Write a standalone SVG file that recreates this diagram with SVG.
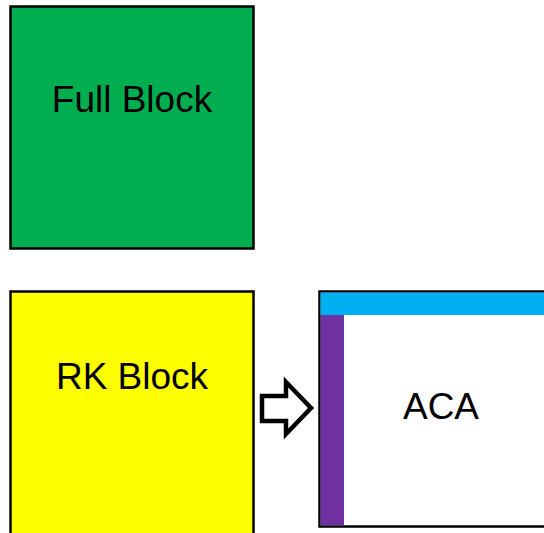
<svg xmlns="http://www.w3.org/2000/svg" width="544" height="533" viewBox="0 0 544 533">
<style>
.box{stroke:#000;stroke-width:2.5}
.lbl{font-family:"Liberation Sans",Arial,sans-serif;font-size:37px;fill:#000;text-anchor:middle}
</style>
<rect width="544" height="533" fill="#fff"/>
<g id="full-block">
<rect class="box" x="10.5" y="6.5" width="243" height="242" fill="#00AE4F"/>
<text class="lbl" x="132" y="112">Full Block</text>
</g>
<g id="rk-block">
<rect class="box" x="10.5" y="291.5" width="243" height="260" fill="#FFFF00"/>
<text class="lbl" x="132" y="389">RK Block</text>
</g>
<g id="aca">
<rect class="box" x="319.5" y="291.5" width="240" height="235" fill="#fff"/>
<rect x="320.5" y="292.5" width="224" height="22.5" fill="#00B0F0"/>
<rect x="320.5" y="315" width="23.5" height="210.5" fill="#7030A0"/>
<text class="lbl" x="441" y="419">ACA</text>
</g>
<g id="connectors">
<path d="M262 396 L286 396 L286 382 L311 408 L286 434 L286 421 L262 421 Z" fill="#fff" stroke="#000" stroke-width="4.5" stroke-linejoin="miter"/>
</g>
</svg>
